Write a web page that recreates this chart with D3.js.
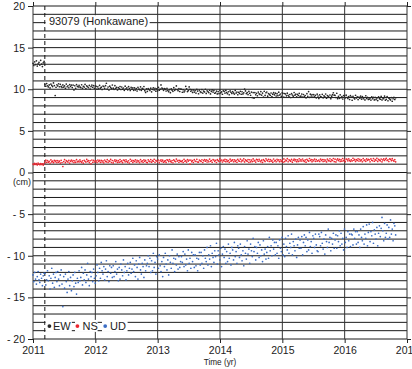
<!DOCTYPE html>
<html>
<head>
<meta charset="utf-8">
<script src="https://cdn.jsdelivr.net/npm/d3@7"></script>
<style>
  html, body { margin: 0; padding: 0; background: #fff; }
  svg { display: block; }
  text { font-family: "Liberation Sans", Arial, Helvetica, sans-serif; fill: #222; }
</style>
</head>
<body>
<svg id="chart" width="412" height="369"></svg>
<script>
// GNSS station displacement time series (cm), one sample every 5 days from 2011.0
const stationName = "93079 (Honkawane)";
const seriesNames = ["EW", "NS", "UD"];
const seriesColors = ["#262626", "#ec2630", "#3a6cc4"];
const startYear = 2011;
const sampleStepDays = 5;
const earthquakeYear = 2011.19;
const yearTicks = [2011, 2012, 2013, 2014, 2015, 2016, 2017];
const yTickValues = [20, 15, 10, 5, 0, -5, -10, -15, -20];
const yTickLabels = ["20", "15", "10", "5", "0", "- 5", "- 10", "- 15", "- 20"];
const xAxisTitle = "Time (yr)";
const yUnitLabel = "(cm)";

const ewValues = [
  13.12, 12.85, 13.30, 12.96, 13.41, 12.78, 13.05, 13.22, 12.90, 13.48, 13.01, 12.72, 13.18, 13.35,
  10.58, 10.36, 10.68, 10.42, 10.28, 10.52, 10.16, 10.62, 10.46, 10.32, 10.76, 10.44, 9.25, 10.24, 10.54, 10.40, 10.66, 10.30, 10.60, 10.34,
  10.22, 10.52, 10.26, 10.40, 10.12, 10.62, 10.30, 10.42, 10.18, 10.56, 10.34, 10.50, 10.20, 10.50, 9.92, 10.42, 10.12, 10.56, 10.36, 10.28,
  10.48, 10.28, 10.20, 10.54, 10.12, 10.36, 10.26, 10.58, 10.08, 10.40, 10.30, 10.18, 10.46, 10.02, 10.32, 10.50, 10.24, 10.44, 10.10, 10.38,
  10.35, 10.01, 10.29, 10.05, 10.47, 10.13, 10.25, 9.97, 10.39, 10.33, 10.11, 10.43, 10.72, 10.03, 10.27, 9.91, 10.37, 10.21, 10.07, 10.51,
  10.13, 9.99, 10.43, 10.11, 10.23, 9.91, 10.21, 10.07, 10.33, 9.97, 10.27, 10.01, 10.15, 9.87, 10.37, 10.05, 10.17, 9.93, 10.31, 10.09,
  9.85, 10.23, 10.01, 10.17, 9.87, 10.17, 9.91, 10.09, 9.79, 10.23, 10.03, 9.95, 10.29, 9.87, 10.11, 10.01, 10.33, 9.83, 9.62, 10.05,
  9.75, 10.07, 9.97, 9.85, 10.13, 9.69, 9.99, 10.17, 9.91, 10.11, 9.77, 10.05, 9.81, 10.23, 9.89, 10.01, 10.52, 10.15, 10.09, 9.87,
  10.07, 10.01, 9.79, 10.11, 9.85, 9.71, 9.95, 9.59, 10.05, 9.89, 9.75, 10.19, 9.87, 9.99, 10.40, 9.97, 9.83, 10.09, 9.73, 10.03,
  10.00, 9.64, 9.94, 9.68, 9.82, 10.35, 10.04, 9.72, 9.84, 10.28, 9.98, 9.76, 9.92, 9.62, 9.92, 9.66, 9.84, 9.54, 9.98, 9.78,
  9.46, 9.90, 9.70, 9.62, 9.96, 9.54, 9.78, 9.68, 10.00, 9.50, 9.82, 9.72, 9.60, 9.88, 9.44, 9.74, 9.92, 9.66, 9.86, 9.52,
  9.58, 9.78, 9.44, 9.72, 9.48, 9.90, 9.56, 9.68, 9.40, 9.82, 9.76, 9.54, 9.86, 9.60, 9.46, 9.70, 9.34, 9.80, 9.64, 9.50,
  9.72, 9.56, 9.42, 9.86, 9.54, 9.66, 9.34, 9.64, 9.50, 9.76, 9.40, 9.70, 9.44, 9.58, 10.02, 9.80, 9.48, 9.60, 9.36, 9.74,
  9.52, 9.28, 9.66, 9.00, 9.60, 8.92, 9.60, 9.34, 9.52, 9.22, 9.66, 9.46, 9.38, 9.72, 9.30, 9.54, 9.06, 9.76, 9.26, 9.58,
  9.67, 9.17, 9.49, 9.39, 9.27, 9.55, 9.11, 9.41, 9.59, 9.33, 9.53, 9.19, 9.47, 9.23, 9.65, 9.31, 9.43, 9.15, 9.57, 9.51,
  9.07, 9.49, 9.43, 9.21, 9.53, 9.27, 9.13, 9.37, 9.01, 9.47, 9.31, 9.17, 9.61, 9.29, 9.41, 9.09, 9.39, 9.25, 9.51, 9.15,
  9.17, 9.43, 9.07, 9.37, 9.11, 9.25, 8.97, 9.47, 9.15, 9.72, 9.03, 9.41, 9.19, 9.35, 9.05, 9.35, 9.09, 9.27, 8.97, 9.41,
  9.19, 8.89, 9.33, 9.13, 9.05, 9.39, 8.97, 9.21, 9.11, 9.43, 8.93, 9.25, 9.15, 9.03, 9.31, 8.87, 9.17, 9.35, 9.58, 9.29,
  9.27, 9.01, 9.52, 8.87, 9.15, 8.91, 9.33, 8.99, 9.11, 8.83, 9.25, 9.19, 8.97, 9.29, 9.03, 8.89, 9.13, 8.77, 9.23, 9.07,
  8.68, 9.14, 8.98, 8.84, 9.28, 8.96, 9.08, 8.76, 9.06, 8.92, 9.18, 8.82, 9.12, 8.86, 9.00, 8.72, 9.22, 8.90, 9.02, 8.78,
  8.82, 8.94, 8.70, 9.08, 8.86, 9.02, 8.72, 9.02, 8.76, 8.94, 8.64, 9.08, 8.88, 8.80, 9.14, 8.72, 8.96, 8.86, 9.18, 8.68,
  8.80, 9.12, 8.62, 8.94, 8.84, 8.72, 9.00, 8.56, 8.86, 9.04, 8.78, 8.98
];

const nsValues = [
  1.02, 0.95, 1.10, 0.98, 1.06, 0.91, 1.13, 1.00, 0.94, 1.08, 0.97, 1.04, 0.89, 1.07,
  1.28, 1.48, 1.21, 1.43, 1.24, 1.35, 1.13, 1.51, 1.27, 1.36, 1.18, 1.47, 1.30, 1.42, 1.19, 1.42, 1.23, 1.36, 1.13, 1.47,
  1.20, 0.72, 1.31, 1.55, 1.18, 1.42, 1.34, 1.25, 1.46, 1.13, 1.36, 1.49, 1.29, 1.44, 1.19, 1.40, 1.22, 1.54, 1.28, 1.37,
  1.27, 1.51, 1.32, 1.21, 1.40, 1.13, 1.47, 1.35, 1.25, 1.57, 1.33, 1.43, 1.19, 1.41, 1.04, 1.50, 1.23, 1.45, 1.26, 1.37,
  1.39, 1.21, 1.50, 1.33, 1.45, 1.22, 1.45, 1.26, 1.39, 1.16, 1.50, 1.34, 1.28, 1.54, 1.22, 1.41, 1.33, 1.57, 1.20, 1.44,
  1.15, 1.38, 1.51, 1.31, 1.46, 1.21, 1.42, 1.24, 1.56, 1.30, 1.39, 1.18, 1.50, 1.45, 1.28, 1.52, 1.33, 1.22, 1.41, 1.14,
  1.59, 1.35, 1.45, 1.21, 1.43, 1.32, 1.52, 1.25, 1.47, 1.28, 1.39, 1.17, 1.55, 1.31, 1.40, 1.22, 1.51, 1.34, 1.46, 1.23,
  1.18, 1.52, 1.36, 1.30, 1.56, 1.24, 1.43, 1.35, 1.59, 1.22, 1.46, 1.38, 1.29, 1.50, 1.17, 1.40, 1.53, 1.33, 1.48, 1.23,
  1.33, 1.42, 1.21, 1.53, 1.48, 1.31, 1.55, 1.36, 1.25, 1.44, 1.17, 1.51, 1.39, 1.29, 1.61, 1.37, 1.47, 1.23, 1.45, 1.34,
  1.31, 1.42, 1.20, 1.58, 1.34, 1.43, 1.25, 1.54, 1.37, 1.49, 1.00, 1.49, 1.30, 1.43, 1.20, 1.54, 1.38, 1.32, 1.58, 1.26,
  1.25, 1.49, 1.41, 1.32, 1.53, 1.20, 1.43, 1.56, 1.36, 1.51, 1.26, 1.47, 1.29, 1.61, 1.35, 1.44, 1.23, 1.55, 1.50, 1.33,
  1.47, 1.20, 1.54, 1.42, 1.32, 1.64, 1.40, 1.50, 1.26, 1.48, 1.37, 1.57, 1.30, 1.52, 1.33, 1.44, 1.22, 1.60, 1.36, 1.45,
  1.52, 1.29, 1.52, 1.33, 1.46, 1.23, 1.57, 1.41, 1.35, 1.61, 1.29, 1.48, 1.40, 1.64, 1.27, 1.51, 1.43, 1.34, 1.55, 1.22,
  1.53, 1.28, 1.49, 1.31, 1.63, 1.37, 1.46, 1.25, 1.57, 1.52, 1.35, 1.59, 1.40, 1.29, 1.48, 1.21, 1.55, 1.43, 1.33, 1.65,
  1.50, 1.39, 1.59, 1.32, 1.54, 1.35, 1.46, 1.24, 1.62, 1.38, 1.47, 1.29, 1.58, 1.41, 1.53, 1.30, 1.53, 1.34, 1.47, 1.24,
  1.63, 1.31, 1.50, 1.42, 1.66, 1.29, 1.53, 1.45, 1.36, 1.57, 1.24, 1.47, 1.60, 1.40, 1.55, 1.30, 1.51, 1.33, 1.65, 1.39,
  1.55, 1.38, 1.62, 1.43, 1.32, 1.51, 1.24, 1.58, 1.46, 1.36, 1.68, 1.44, 1.54, 1.30, 1.52, 1.41, 1.61, 1.34, 1.56, 1.37,
  1.41, 1.50, 1.32, 1.61, 1.44, 1.56, 1.33, 1.56, 1.37, 1.50, 1.27, 1.61, 1.45, 1.39, 1.65, 1.33, 1.52, 1.44, 1.68, 1.31,
  1.60, 1.27, 1.50, 1.63, 1.43, 1.58, 1.33, 1.54, 1.36, 1.68, 1.42, 1.51, 1.30, 1.62, 1.57, 1.40, 1.64, 1.45, 1.34, 1.53,
  1.39, 1.71, 1.47, 1.57, 1.33, 1.55, 1.44, 1.64, 1.37, 1.59, 1.40, 1.51, 1.29, 1.67, 1.43, 1.52, 1.34, 1.63, 1.46, 1.58,
  1.52, 1.29, 1.63, 1.47, 1.41, 1.67, 1.35, 1.54, 1.46, 1.70, 1.33, 1.57, 1.49, 1.40, 1.61, 1.28, 1.51, 1.64, 1.44, 1.59,
  1.70, 1.44, 1.53, 1.32, 1.64, 1.59, 1.42, 1.66, 1.47, 1.36, 1.55, 1.28
];

const udValues = [
  -12.3, -13.1, -12.0, -12.8, -13.4, -12.5, -11.9, -12.9, -13.2, -12.2, -12.7, -13.6, -12.4, -12.1,
  -12.1, -13.5, -12.9, -11.8, -13.0, -12.4, -14.0, -12.7, -11.5, -13.3, -12.2, -13.8, -12.6, -12.0, -13.1, -11.9, -12.8, -13.6, -12.3, -11.7,
  -13.4, -16.1, -12.5, -13.9, -12.2, -13.1, -14.4, -12.8, -11.9, -13.6, -12.6, -14.2, -13.0, -12.3, -13.7, -12.0, -13.3, -14.6, -12.7, -13.2,
  -11.8, -13.0, -12.6, -11.4, -13.5, -12.1, -12.9, -11.7, -13.2, -12.3, -10.9, -12.8, -13.6, -11.9, -12.5, -12.0, -13.1, -11.6, -12.7, -13.3,
  -12.4, -11.1, -12.0, -13.0, -11.5, -12.7, -10.8, -11.8, -12.2, -11.3, -12.9, -11.6, -10.6, -12.5, -11.9, -13.1, -11.2, -12.1, -11.4, -12.6,
  -11.2, -12.5, -11.9, -10.7, -12.2, -11.6, -13.0, -11.4, -12.8, -11.0, -11.7, -12.4, -10.5, -12.0, -11.3, -12.9, -11.8, -10.9, -12.3, -11.5,
  -10.8, -12.1, -11.6, -10.3, -11.9, -11.1, -12.5, -10.6, -11.4, -12.8, -11.0, -10.2, -11.7, -12.2, -10.9, -11.3, -12.6, -10.5, -11.8, -11.2,
  -10.9, -10.0, -11.3, -10.3, -12.0, -10.6, -11.8, -9.7, -11.4, -10.8, -12.2, -10.1, -10.4, -11.5, -9.9, -11.2, -11.9, -10.7, -12.5, -10.2,
  -11.3, -9.7, -11.0, -11.7, -10.5, -12.3, -10.0, -10.8, -11.5, -9.3, -10.9, -10.3, -11.9, -10.4, -11.1, -9.8, -11.6, -10.1, -11.4, -10.7,
  -10.1, -10.8, -9.5, -11.3, -9.8, -11.1, -10.4, -11.8, -9.3, -10.9, -10.3, -11.5, -9.6, -10.7, -9.9, -11.4, -9.9, -11.2, -10.3, -11.8,
  -10.4, -9.6, -11.1, -9.6, -10.9, -10.0, -11.5, -9.3, -10.3, -10.7, -9.0, -11.1, -9.9, -10.4, -8.8, -11.3, -9.7, -10.2, -10.8, -9.4,
  -10.1, -8.5, -11.0, -9.4, -9.9, -10.5, -9.1, -11.3, -9.8, -8.9, -10.2, -9.2, -10.9, -9.5, -10.7, -8.6, -10.3, -9.7, -11.1, -9.0,
  -9.3, -10.5, -8.4, -10.1, -9.5, -10.9, -8.8, -9.1, -10.2, -8.6, -9.9, -10.6, -9.4, -11.2, -8.9, -9.7, -10.4, -8.2, -9.8, -9.2,
  -10.9, -8.6, -9.4, -10.1, -7.9, -9.5, -8.9, -10.5, -9.0, -9.7, -8.4, -10.2, -8.7, -10.0, -9.3, -10.7, -8.2, -9.8, -9.2, -10.4,
  -9.6, -8.9, -10.3, -7.8, -9.4, -8.8, -10.0, -8.1, -9.2, -8.4, -9.9, -8.4, -9.7, -8.8, -10.3, -8.1, -9.1, -9.5, -7.8, -9.9,
  -8.6, -10.1, -7.9, -8.9, -9.3, -7.6, -9.7, -8.5, -9.0, -7.4, -9.9, -8.3, -8.8, -9.4, -8.0, -10.2, -8.7, -7.8, -9.1, -8.1,
  -9.1, -7.7, -9.9, -8.4, -7.5, -8.8, -7.8, -9.5, -8.1, -9.3, -7.2, -8.9, -8.3, -9.7, -7.6, -7.9, -9.0, -7.4, -8.7, -9.4,
  -9.5, -7.4, -7.7, -8.8, -7.2, -8.5, -9.2, -8.0, -9.8, -7.5, -8.3, -9.0, -6.8, -8.4, -7.8, -9.4, -7.9, -8.6, -7.3, -9.1,
  -8.1, -7.5, -9.1, -7.6, -8.3, -7.0, -8.8, -7.3, -8.6, -7.9, -9.3, -6.8, -8.4, -7.8, -9.0, -7.1, -8.2, -7.4, -8.9, -7.4,
  -7.5, -8.7, -6.8, -7.9, -7.1, -8.6, -7.1, -8.4, -7.5, -9.0, -6.8, -7.8, -8.2, -6.5, -8.6, -7.4, -7.9, -6.3, -8.8, -7.2,
  -6.2, -8.3, -7.1, -7.6, -6.0, -8.5, -6.9, -7.4, -8.0, -6.6, -8.8, -7.3, -6.4, -7.7, -6.7, -5.4, -7.0, -8.2, -6.1, -7.8,
  -7.3, -6.3, -8.0, -6.6, -7.8, -5.7, -7.4, -6.8, -8.2, -6.1, -6.4, -7.5
];

const series = [ewValues, nsValues, udValues];
const sampleYear = i => startYear + i * sampleStepDays / 365.25;

const svg = d3.select("#chart");
const x = d3.scaleLinear().domain([2011, 2017]).range([33, 407]);
const y = d3.scaleLinear().domain([-20, 20]).range([339, 6]);
const [x0, x1] = x.range();
const [yb, yt] = y.range();

// horizontal grid, one line per centimetre
svg.append("g")
  .selectAll("line")
  .data(d3.range(-20, 21))
  .join("line")
  .attr("x1", x0).attr("x2", x1)
  .attr("y1", d => y(d)).attr("y2", d => y(d))
  .attr("stroke", "#1a1a1a").attr("stroke-width", 1);

// vertical grid at each year
svg.append("g")
  .selectAll("line")
  .data(yearTicks)
  .join("line")
  .attr("x1", d => x(d)).attr("x2", d => x(d))
  .attr("y1", yt).attr("y2", yb)
  .attr("stroke", "#333").attr("stroke-width", 1);

// earthquake marker
svg.append("line")
  .attr("x1", x(earthquakeYear)).attr("x2", x(earthquakeYear))
  .attr("y1", yt).attr("y2", yb)
  .attr("stroke", "#111").attr("stroke-width", 1)
  .attr("stroke-dasharray", "4,3");

// displacement samples
series.forEach((vals, s) => {
  svg.append("g")
    .attr("fill", seriesColors[s])
    .selectAll("circle")
    .data(vals)
    .join("circle")
    .attr("cx", (d, i) => x(sampleYear(i)))
    .attr("cy", d => y(d))
    .attr("r", 0.85);
});

// station name
const title = svg.append("g");
title.append("rect")
  .attr("x", x(earthquakeYear) + 0.8).attr("y", 15.2)
  .attr("width", 104).attr("height", 12.6)
  .attr("fill", "#fff");
title.append("text")
  .attr("x", 49).attr("y", 24.5)
  .attr("font-size", 11)
  .text(stationName);

// legend
const legendY = y(-18.45);
const legendItems = [
  { box: [45.6, 71.8], dot: 49.4, label: 53 },
  { box: [75, 97.6], dot: 77.4, label: 82.5 },
  { box: [102, 127.6], dot: 105.2, label: 110 }
];
const legend = svg.append("g");
seriesNames.forEach((name, s) => {
  const it = legendItems[s];
  legend.append("rect")
    .attr("x", it.box[0]).attr("y", legendY - 6.2)
    .attr("width", it.box[1] - it.box[0]).attr("height", 12)
    .attr("fill", "#fff");
  legend.append("circle")
    .attr("cx", it.dot).attr("cy", legendY).attr("r", 1.9)
    .attr("fill", seriesColors[s]);
  legend.append("text")
    .attr("x", it.label).attr("y", legendY + 4)
    .attr("font-size", 11)
    .text(name);
});

// axes
const fmtY = d => yTickLabels[yTickValues.indexOf(d)];
const styleAxis = g => {
  g.select(".domain").remove();
  g.selectAll(".tick line").attr("stroke", "#222");
  g.selectAll(".tick text").attr("fill", "#222").attr("font-size", 10.5)
    .attr("font-family", "Liberation Sans, Arial, sans-serif");
};
svg.append("g").attr("transform", `translate(${x0},0)`)
  .call(d3.axisLeft(y).tickValues(yTickValues).tickSize(5).tickPadding(3).tickFormat(fmtY))
  .call(styleAxis);
svg.append("g").attr("transform", `translate(${x1},0)`)
  .call(d3.axisRight(y).tickValues(yTickValues).tickSize(4).tickFormat(""))
  .call(styleAxis);
svg.append("g").attr("transform", `translate(0,${yb})`)
  .call(d3.axisBottom(x).tickValues(yearTicks).tickSize(4).tickPadding(4).tickFormat(d3.format("d")))
  .call(styleAxis);
svg.append("g").attr("transform", `translate(0,${yt})`)
  .call(d3.axisTop(x).tickValues(yearTicks).tickSize(4).tickFormat(""))
  .call(styleAxis);

// axis titles
svg.append("text")
  .attr("x", (x0 + x1) / 2).attr("y", 365)
  .attr("text-anchor", "middle").attr("font-size", 8.2)
  .text(xAxisTitle);
svg.append("text")
  .attr("x", 22).attr("y", y(0) + 12.5)
  .attr("text-anchor", "middle").attr("font-size", 9)
  .text(yUnitLabel);
</script>
</body>
</html>
